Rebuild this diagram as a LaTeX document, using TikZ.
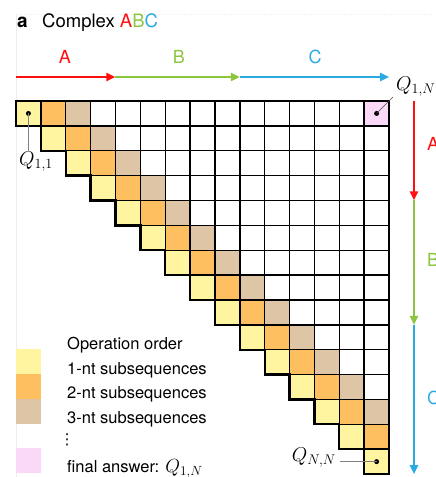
\RequirePackage{fix-cm}
\documentclass[tikz,border=0pt]{standalone}
\usepackage{fontspec}
\setmainfont{TeX Gyre Heros}
\newfontfamily\symfont{DejaVu Sans}
\usetikzlibrary{arrows.meta}
\definecolor{cyel}{HTML}{FFF5A0}
\definecolor{corg}{HTML}{FDBF5F}
\definecolor{ctan}{HTML}{DEC5A6}
\definecolor{cpink}{HTML}{FAD9F8}
\definecolor{cred}{HTML}{FF1010}
\definecolor{cgrn}{HTML}{8CC63F}
\definecolor{cblu}{HTML}{29ABE2}
\tikzset{
  cellbox/.style={draw=black, line width=1.4pt},
  outline/.style={draw=black, line width=2.3pt, line join=miter},
  arr/.style={line width=2.2pt, -{Triangle[length=9pt,width=8pt]}},
  axlab/.style={font=\fontsize{18}{20}\selectfont, inner sep=0pt},
  leglab/.style={font=\fontsize{16.5}{19}\selectfont, anchor=base west, inner sep=0pt},
  qlab/.style={font=\fontsize{20}{23}\selectfont, inner sep=1pt},
  pin/.style={draw=black!50, line width=0.9pt},
  dotmark/.style={fill=black, circle, inner sep=0pt, minimum size=5pt},
  swatch/.style={inner sep=0pt, minimum width=24.87pt, minimum height=24.87pt, anchor=north west},
  faint/.style={draw=black!7, line width=0.5pt}
}
\begin{document}
\begin{tikzpicture}[x=1pt,y=-1pt]
\useasboundingbox (0,0) rectangle (436,477);
\def\s{24.87}
\def\ox{16}
\def\oy{101}
% faint panel lines
\draw[faint, dotted] (16,14) -- (436,14);
\draw[faint] (16,14) -- (16,477);
% title
\node[anchor=base west, inner sep=0pt, font=\fontsize{19}{22}\selectfont\bfseries] (tA) at (17,27) {a};
\node[anchor=base west, inner sep=0pt, font=\fontsize{18.5}{22}\selectfont] (title) at (42,27) {Complex \textcolor{cred}{A}\textcolor{cgrn}{B}\textcolor{cblu}{C}};
% cells white
\foreach \i in {1,...,15}{
  \foreach \j in {\i,...,15}{
    \fill[white] ({\ox+(\j-1)*\s},{\oy+(\i-1)*\s}) rectangle ++(\s,\s);
  }
}
% diagonals
\foreach \i in {1,...,15}{
  \fill[cyel] ({\ox+(\i-1)*\s},{\oy+(\i-1)*\s}) rectangle ++(\s,\s);
}
\foreach \i in {1,...,14}{
  \fill[corg] ({\ox+\i*\s},{\oy+(\i-1)*\s}) rectangle ++(\s,\s);
}
\foreach \i in {1,...,13}{
  \fill[ctan] ({\ox+(\i+1)*\s},{\oy+(\i-1)*\s}) rectangle ++(\s,\s);
}
\fill[cpink] ({\ox+14*\s},{\oy}) rectangle ++(\s,\s);
% grid lines
\foreach \i in {1,...,15}{
  \foreach \j in {\i,...,15}{
    \draw[cellbox] ({\ox+(\j-1)*\s},{\oy+(\i-1)*\s}) rectangle ++(\s,\s);
  }
}
% outline
\draw[outline] (\ox,\oy) -- ({\ox+15*\s},\oy) -- ({\ox+15*\s},{\oy+15*\s})
  \foreach \k in {14,13,...,0}{ -- ({\ox+\k*\s},{\oy+(\k+1)*\s}) -- ({\ox+\k*\s},{\oy+\k*\s}) } -- cycle;
% horizontal arrows
\coordinate (h0) at (16,77);
\coordinate (h1) at ({\ox+4*\s},77);
\coordinate (h2) at ({\ox+9*\s},77);
\coordinate (h3) at ({\ox+15*\s},77);
\draw[arr, cred] (h0) -- (h1);
\draw[arr, cgrn] (h1) -- (h2);
\draw[arr, cblu] (h2) -- (h3);
\node[axlab, text=cred] (lA) at (65,57) {A};
\node[axlab, text=cgrn] (lB) at (179,57) {B};
\node[axlab, text=cblu] (lC) at (315,57) {C};
% vertical arrows
\coordinate (v0) at (414,\oy);
\coordinate (v1) at (414,{\oy+4*\s});
\coordinate (v2) at (414,{\oy+9*\s});
\coordinate (v3) at (414,{\oy+15*\s});
\draw[arr, cred] (v0) -- (v1);
\draw[arr, cgrn] (v1) -- (v2);
\draw[arr, cblu] (v2) -- (v3);
\node[axlab, text=cred, anchor=west] (rA) at (427,144) {A};
\node[axlab, text=cgrn, anchor=west] (rB) at (427,260) {B};
\node[axlab, text=cblu, anchor=west] (rC) at (427,398) {C};
% dots and labels
\node[dotmark] (d11) at ({\ox+0.5*\s},{\oy+0.5*\s}) {};
\node[dotmark] (d1N) at ({\ox+14.5*\s},{\oy+0.5*\s}) {};
\node[dotmark] (dNN) at ({\ox+14.5*\s},{\oy+14.5*\s}) {};
\node[qlab, anchor=north west] (q11) at (18,151) {$Q_{1,1}$};
\node[qlab, anchor=west] (q1N) at (395,87) {$Q_{1,N}$};
\node[qlab, anchor=east] (qNN) at (337,458) {$Q_{N,N}$};
\coordinate (p11) at (d11 |- q11.north);
\coordinate (p1N) at (393,97);
\coordinate (pNN) at (340,{\oy+14.5*\s});
\draw[pin] (d11.center) -- (p11);
\draw[pin, draw=black!70, line width=0.6pt] (d1N.center) -- (p1N);
\draw[pin] (dNN.center) -- (pNN);
% legend
\node[swatch, fill=cyel] (s1) at (16,349) {};
\node[swatch, fill=corg] (s2) at (16,{349+\s}) {};
\node[swatch, fill=ctan] (s3) at (16,{349+2*\s}) {};
\node[swatch, fill=cpink] (s4) at (16,448) {};
\node[leglab] (t0) at (67,349) {Operation order};
\node[leglab] (t1) at (67,374) {1-nt subsequences};
\node[leglab] (t2) at (67,398.5) {2-nt subsequences};
\node[leglab] (t3) at (67,423) {3-nt subsequences};
\node[inner sep=0pt, font=\symfont\fontsize{15}{18}\selectfont] (td) at (67,440) {⋮};
\node[leglab] (t4) at (67,472.5) {final answer: {\fontsize{19}{22}\selectfont$Q_{1,N}$}};
\end{tikzpicture}
\end{document}
